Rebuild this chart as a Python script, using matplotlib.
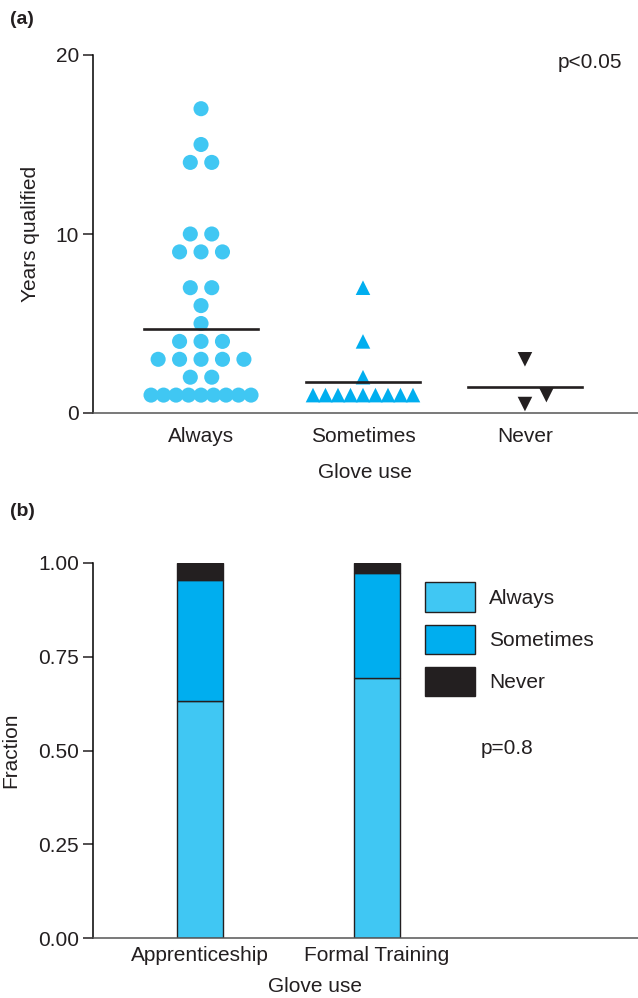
import numpy as np
import matplotlib
matplotlib.use("Agg")
import matplotlib.pyplot as plt
from matplotlib.patches import Patch

plt.rcParams['font.family'] = ['Liberation Sans', 'DejaVu Sans']
plt.rcParams['font.size'] = 15
plt.rcParams['text.color'] = '#231f20'
plt.rcParams['axes.labelcolor'] = '#231f20'
plt.rcParams['xtick.color'] = '#231f20'
plt.rcParams['ytick.color'] = '#231f20'

### Data ##########################
groups = ['Always', 'Sometimes', 'Never']
always_years = [17, 15, 14, 14, 10, 10, 9, 9, 9, 7, 7, 6, 5, 4, 4, 4,
                3, 3, 3, 3, 3, 2, 2, 1, 1, 1, 1, 1, 1, 1, 1, 1]
sometimes_years = [7, 4, 2, 1, 1, 1, 1, 1, 1, 1, 1, 1]
never_years = [3, 1, 0.5]
group_means = [4.7, 1.75, 1.45]

training = ['Apprenticeship', 'Formal Training']
frac_always = [0.633, 0.693]
frac_sometimes = [0.323, 0.281]
frac_never = [0.044, 0.026]

light = '#40c7f3'
mid = '#00aeef'
dark = '#231f20'

fig = plt.figure(figsize=(6.38, 9.98), dpi=100)

####################################
########## panel (a) ###############
ax1 = fig.add_axes([93/638, 1 - 413/998, 545/638, 358/998])
ax1.set_xlim(0.333, 3.698)
ax1.set_ylim(0, 20)


def swarm(ax, xc, vals, diam_px, max_row_px):
    # simple row-based swarm: equal values share a row, rows shifted to avoid overlap
    to_px = ax.transData.transform
    placed = []
    xs, ys = [], []
    dx_unit = to_px((1, 0))[0] - to_px((0, 0))[0]
    for v in sorted(set(vals)):
        n = vals.count(v)
        step = diam_px * 1.43
        if n > 1:
            step = min(step, max_row_px / (n - 1))
        offs = (np.arange(n) - (n - 1) / 2) * step
        shift = 0.0
        for cand in [0, 1, -1, 2, -2]:
            shift = cand * diam_px * 1.43
            ok = True
            for ox in offs:
                p = to_px((xc, v)) + np.array([ox + shift, 0])
                for q in placed:
                    if np.hypot(*(p - q)) < diam_px * 0.95:
                        ok = False
            if ok:
                break
        for ox in offs:
            p = to_px((xc, v)) + np.array([ox + shift, 0])
            placed.append(p)
            xs.append(xc + (ox + shift) / dx_unit)
            ys.append(v)
    return xs, ys


fig.canvas.draw()
xa, ya = swarm(ax1, 1, always_years, 15, 100)
xs_, ys_ = swarm(ax1, 2, sometimes_years, 15, 100)
xn, yn = swarm(ax1, 3, never_years, 15, 100)

ax1.scatter(xa, ya, s=118, marker='o', color=light, edgecolors='none', zorder=2, clip_on=False)
ax1.scatter(xs_, ys_, s=110, marker='^', color=mid, edgecolors='none', zorder=2, clip_on=False)
ax1.scatter(xn, yn, s=110, marker='v', color=dark, edgecolors='none', zorder=2, clip_on=False)

for i, m in enumerate(group_means):
    ax1.plot([i + 1 - 0.35, i + 1 + 0.35], [m, m], color=dark, lw=1.9, zorder=3)

ax1.set_xticks([1, 2, 3])
ax1.set_xticklabels(groups)
ax1.set_yticks([0, 10, 20])
ax1.tick_params(axis='x', length=0, pad=10)
ax1.tick_params(axis='y', length=7, width=1.1, pad=3)
ax1.spines['top'].set_visible(False)
ax1.spines['right'].set_visible(False)
ax1.spines['left'].set_linewidth(1.1)
ax1.spines['bottom'].set_linewidth(1.1)
ax1.spines['bottom'].set_color('#555555')
ax1.set_xlabel('Glove use', labelpad=12)
ax1.set_ylabel('Years qualified', labelpad=11)
ax1.text(0.9706, 0.98, 'p<0.05', transform=ax1.transAxes, ha='right', va='center')
fig.text(10/638, 1 - 20/998, '(a)', fontsize=14, fontweight='bold', va='center')

####################################
########## panel (b) ###############
ax2 = fig.add_axes([93/638, 1 - 938/998, 545/638, 375/998])
ax2.set_xlim(0.395, 3.475)
ax2.set_ylim(0, 1)
pos = np.arange(1, len(training) + 1)
w = 0.26
ax2.bar(pos, frac_always, w, color=light, edgecolor=dark, lw=1.0)
ax2.bar(pos, frac_sometimes, w, bottom=frac_always, color=mid, edgecolor=dark, lw=1.0)
ax2.bar(pos, frac_never, w, bottom=np.add(frac_always, frac_sometimes),
        color=dark, edgecolor=dark, lw=1.0)

ax2.set_xticks(pos)
ax2.set_xticklabels(training)
ax2.set_yticks([0, 0.25, 0.5, 0.75, 1.0])
ax2.set_yticklabels(['0.00', '0.25', '0.50', '0.75', '1.00'])
ax2.tick_params(axis='x', length=0, pad=6)
ax2.tick_params(axis='y', length=7, width=1.1, pad=3)
ax2.spines['top'].set_visible(False)
ax2.spines['right'].set_visible(False)
ax2.spines['left'].set_linewidth(1.1)
ax2.spines['bottom'].set_linewidth(1.1)
ax2.spines['bottom'].set_color('#555555')
ax2.set_xlabel('Glove use')
ax2.xaxis.set_label_coords(0.407, -0.105)
ax2.set_ylabel('Fraction', labelpad=13)

handles = [Patch(facecolor=light, edgecolor=dark, lw=1.0, label='Always'),
           Patch(facecolor=mid, edgecolor=dark, lw=1.0, label='Sometimes'),
           Patch(facecolor=dark, edgecolor=dark, lw=1.0, label='Never')]
ax2.legend(handles=handles, loc='upper left', bbox_to_anchor=(0.609, 0.949),
           frameon=False, handlelength=2.4, handleheight=1.8,
           handletextpad=0.67, labelspacing=0.62, borderaxespad=0, borderpad=0)
ax2.text(0.711, 0.505, 'p=0.8', transform=ax2.transAxes, ha='left', va='center')
fig.text(10/638, 1 - 512/998, '(b)', fontsize=14, fontweight='bold', va='center')

fig.savefig('out.png', dpi=100)
